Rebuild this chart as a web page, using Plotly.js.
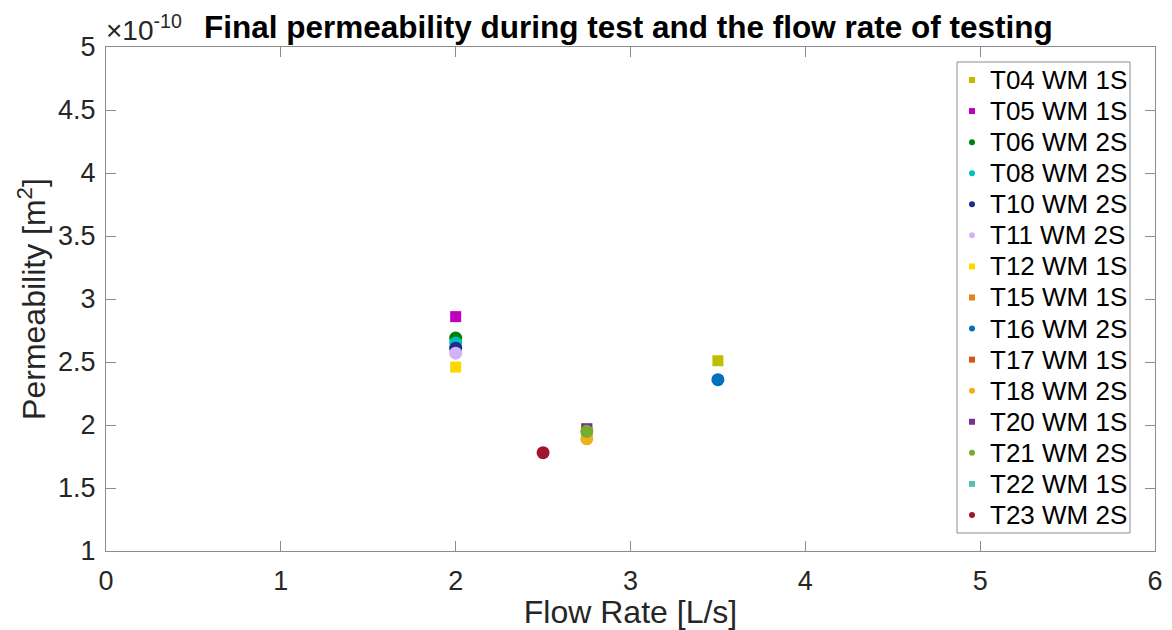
<!DOCTYPE html>
<html>
<head>
<meta charset="utf-8">
<script src="https://cdn.plot.ly/plotly-3.0.1.min.js"></script>
<style>
  html, body { margin: 0; padding: 0; background: #fff; }
  #chart { width: 1172px; height: 630px; }
</style>
</head>
<body>
<div id="chart"></div>
<script>
// Test names, flow rates [L/s] and final permeability [x1e-10 m^2]
const tests = ["T04 WM 1S", "T05 WM 1S", "T06 WM 2S", "T08 WM 2S", "T10 WM 2S",
               "T11 WM 2S", "T12 WM 1S", "T15 WM 1S", "T16 WM 2S", "T17 WM 1S",
               "T18 WM 2S", "T20 WM 1S", "T21 WM 2S", "T22 WM 1S", "T23 WM 2S"];
const flowRate = [3.5, 2.0, 2.0, 2.0, 2.0, 2.0, 2.0, 2.75, 3.5, 2.75, 2.75, 2.75, 2.75, 2.75, 2.5];
const permeability = [2.51, 2.86, 2.69, 2.65, 2.61, 2.57, 2.46, 1.95, 2.36, 1.93, 1.89, 1.97, 1.95, 1.97, 1.78];
const symbols = ["square", "square", "circle", "circle", "circle", "circle", "square", "square",
                 "circle", "square", "circle", "square", "circle", "square", "circle"];
const colors = ["#bfbf00", "#bf00bf", "#008000", "#00bfbf", "#1f2a8a", "#d3b3f5", "#ffd700",
                "#e08420", "#0072bd", "#d95319", "#edb120", "#7e2f8e", "#77ac30", "#5cbfae", "#a2142f"];
// Stacking order of the markers (lower values are drawn first, underneath)
const layerOrder = [0, 0, 0, 0, 0, 0, 0, 0, 0, 0, 0, 0, 0, -1, 0];

const FONT = "Liberation Sans, Arial, Helvetica, sans-serif";

// Plot area geometry (pixels) used to place the legend box
const W = 1172, H = 630;
const M = { l: 106, r: 17, t: 47, b: 79 };
const plotW = W - M.l - M.r, plotH = H - M.t - M.b;
const px2x = px => (px - M.l) / plotW;
const py2y = py => (H - M.b - py) / plotH;

const drawIdx = tests.map((_, i) => i).sort((a, b) => layerOrder[a] - layerOrder[b] || a - b);
const traces = drawIdx.map(i => ({
  type: "scatter", mode: "markers",
  x: [flowRate[i]], y: [permeability[i]],
  name: tests[i], showlegend: false,
  marker: { symbol: symbols[i], color: colors[i],
            size: symbols[i] === "circle" ? 13 : 11, line: { width: 0 } },
  hoverinfo: "x+y+name"
}));

// Legend: bordered box with a small swatch and a label per test
const legLeft = 957, legRight = 1130, legTop = 62, legBottom = 533;
const rowTop = 80, rowStep = 31.07, swatchX = 972, textX = 988, sw = 3;
const shapes = [{
  type: "rect", xref: "paper", yref: "paper",
  x0: px2x(legLeft), x1: px2x(legRight), y0: py2y(legBottom), y1: py2y(legTop),
  line: { color: "#8c8c8c", width: 1 }, fillcolor: "#fff", layer: "above"
}];
const annotations = [];
tests.forEach((name, i) => {
  const yc = py2y(rowTop + rowStep * i);
  shapes.push({
    type: symbols[i] === "circle" ? "circle" : "rect",
    xref: "paper", yref: "paper", xsizemode: "pixel", ysizemode: "pixel",
    xanchor: px2x(swatchX), yanchor: yc,
    x0: -sw, x1: sw, y0: -sw, y1: sw,
    fillcolor: colors[i], line: { width: 0 }, layer: "above"
  });
  annotations.push({
    text: name, xref: "paper", yref: "paper",
    x: px2x(textX), y: yc, xanchor: "left", yanchor: "middle",
    showarrow: false, font: { family: FONT, size: 26, color: "#000" }
  });
});

annotations.push(
  {
    text: "×10<sup>-10</sup>", xref: "paper", yref: "paper",
    x: 0, y: 1, xanchor: "left", yanchor: "bottom", yshift: -1, xshift: -2,
    showarrow: false,
    font: { family: FONT, size: 28, color: "#262626" }
  },
  {
    text: "<b>Final permeability during test and the flow rate of testing</b>",
    xref: "paper", yref: "paper",
    x: px2x(628), y: 1, xanchor: "center", yanchor: "bottom", yshift: 0,
    showarrow: false,
    font: { family: FONT, size: 31.5, color: "#000" }
  }
);

const tickFont = { family: FONT, size: 27, color: "#262626" };
const titleFont = { family: FONT, size: 32, color: "#262626" };

const layout = {
  width: W, height: H,
  margin: M,
  paper_bgcolor: "#fff", plot_bgcolor: "#fff",
  showlegend: false,
  xaxis: {
    range: [0, 6], dtick: 1, tick0: 0,
    showgrid: false, zeroline: false,
    showline: true, linecolor: "#8c8c8c", linewidth: 1, mirror: "ticks",
    ticks: "inside", ticklen: 10, tickcolor: "#8c8c8c",
    ticklabelstandoff: 6,
    tickfont: tickFont,
    title: { text: "Flow Rate [L/s]", font: titleFont, standoff: 9 }
  },
  yaxis: {
    range: [1, 5], dtick: 0.5, tick0: 1,
    showgrid: false, zeroline: false,
    showline: true, linecolor: "#8c8c8c", linewidth: 1, mirror: "ticks",
    ticks: "inside", ticklen: 10, tickcolor: "#8c8c8c",
    ticklabelstandoff: 4,
    tickfont: tickFont,
    title: { text: "Permeability [m<sup>2</sup>]", font: titleFont, standoff: 2 }
  },
  shapes: shapes,
  annotations: annotations
};

Plotly.newPlot("chart", traces, layout, { displayModeBar: false, staticPlot: true });
</script>
</body>
</html>
